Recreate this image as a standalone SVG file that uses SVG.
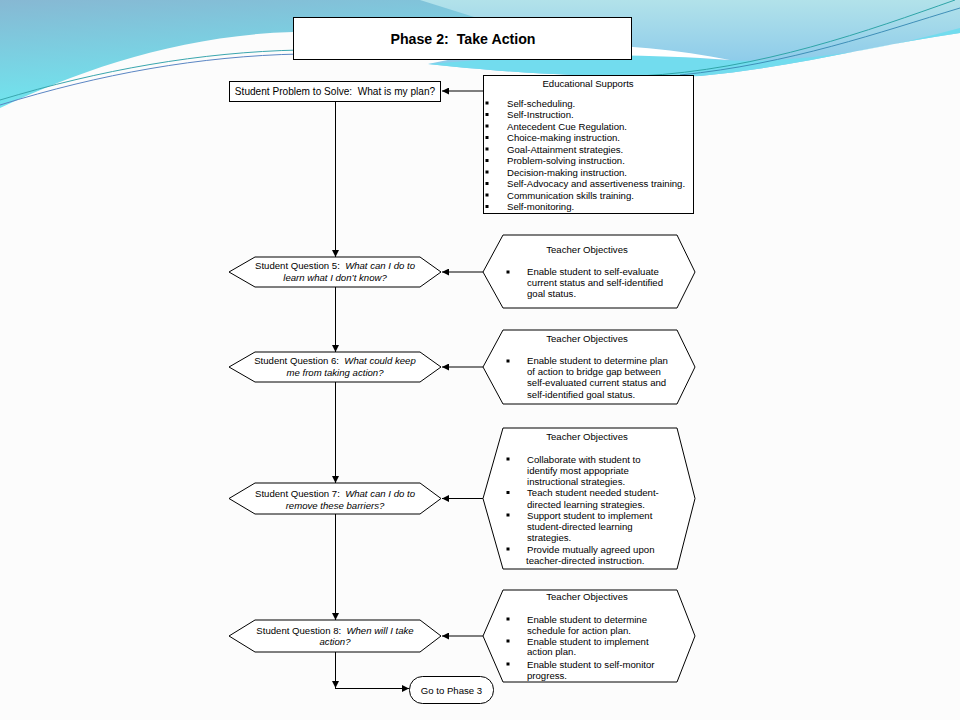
<svg xmlns="http://www.w3.org/2000/svg" width="960" height="720" viewBox="0 0 960 720">
<defs>
<linearGradient id="gl" x1="0" y1="0" x2="0.3" y2="1">
<stop offset="0" stop-color="#87b8d3"/>
<stop offset="1" stop-color="#6ee9f1"/>
</linearGradient>
<linearGradient id="gr" x1="0" y1="0" x2="0" y2="1">
<stop offset="0" stop-color="#b2e2ea"/>
<stop offset="1" stop-color="#85c6ea"/>
</linearGradient>
<marker id="ah" viewBox="0 0 10 10" refX="10" refY="5" markerWidth="7" markerHeight="7" markerUnits="userSpaceOnUse" orient="auto">
<path d="M0,0 L10,5 L0,10 Z" fill="#000"/>
</marker>
<style>
.box{fill:#fff;stroke:#000;stroke-width:1}
.t{font-family:"Liberation Sans",Arial,sans-serif;font-size:9.6px;fill:#000}
.it{font-style:italic}
.ttl{font-family:"Liberation Sans",Arial,sans-serif;font-size:14.2px;font-weight:bold;fill:#000}
.c{stroke:#000;stroke-width:1;fill:none}
.b{fill:#000}
</style>
</defs>
<g id="background">
<rect x="0" y="0" width="960" height="720" fill="#fcfcfc"/>
<path d="M0,0 H520 V60 C440,45 380,32 293,32 C180,35 80,70 0,108 Z" fill="url(#gl)"/>
<path d="M420,0 H960 V33 C870,46 790,68 700,76 C600,79 500,72 428,64 C470,55 520,48 560,44 Z" fill="url(#gr)"/>
<path d="M428,64 C520,56 620,50 720,60 C800,64 880,50 960,28 V33 C870,46 790,68 700,76 C600,79 500,72 428,64 Z" fill="#72dcee"/>
<path d="M560,44 C620,44 680,50 730,60 C650,54 580,54 470,60 C500,52 530,47 560,44 Z" fill="#ffffff"/>
<path d="M0,100 C100,70 200,52 300,50" stroke="#3aa6ae" stroke-width="1" fill="none"/>
<path d="M0,105 C100,74 200,56 300,54" stroke="#5b86c4" stroke-width="1" fill="none"/>
<path d="M640,76 C760,70 870,30 955,0" stroke="#2fa5a8" stroke-width="1" fill="none"/>
<path d="M680,75 C790,64 880,32 960,8" stroke="#3f8fb8" stroke-width="1" fill="none"/>
</g>
<g id="title">
<rect class="box" x="293.5" y="17.5" width="338" height="42"/>
<text class="ttl" x="463" y="44" text-anchor="middle" xml:space="preserve">Phase 2:  Take Action</text>
</g>
<g id="connectors">
<line class="c" x1="483" y1="91" x2="442" y2="91" marker-end="url(#ah)"/>
<line class="c" x1="335.5" y1="102" x2="335.5" y2="257" marker-end="url(#ah)"/>
<line class="c" x1="483" y1="272" x2="442" y2="272" marker-end="url(#ah)"/>
<line class="c" x1="335.5" y1="287" x2="335.5" y2="352" marker-end="url(#ah)"/>
<line class="c" x1="483" y1="367" x2="442" y2="367" marker-end="url(#ah)"/>
<line class="c" x1="335.5" y1="382" x2="335.5" y2="483" marker-end="url(#ah)"/>
<line class="c" x1="483" y1="498.5" x2="442" y2="498.5" marker-end="url(#ah)"/>
<line class="c" x1="335.5" y1="514" x2="335.5" y2="620" marker-end="url(#ah)"/>
<line class="c" x1="483" y1="636" x2="442" y2="636" marker-end="url(#ah)"/>
<line class="c" x1="335.5" y1="652" x2="335.5" y2="688" marker-end="url(#ah)"/>
<line class="c" x1="335" y1="688.5" x2="409" y2="688.5" marker-end="url(#ah)"/>
</g>
<g id="problem">
<rect class="box" x="229.5" y="81.5" width="211" height="20"/>
<text class="t" x="335" y="95" text-anchor="middle" style="font-size:10.1px" xml:space="preserve">Student Problem to Solve:  What is my plan?</text>
</g>
<g id="supports">
<rect class="box" x="483.5" y="75.5" width="210" height="138"/>
<text class="t" x="588" y="86.5" text-anchor="middle">Educational Supports</text>
<g class="b">
<rect x="485.5" y="101.5" width="3" height="3"/>
<rect x="485.5" y="113" width="3" height="3"/>
<rect x="485.5" y="124.5" width="3" height="3"/>
<rect x="485.5" y="136" width="3" height="3"/>
<rect x="485.5" y="147.5" width="3" height="3"/>
<rect x="485.5" y="159" width="3" height="3"/>
<rect x="485.5" y="170.5" width="3" height="3"/>
<rect x="485.5" y="182" width="3" height="3"/>
<rect x="485.5" y="193.5" width="3" height="3"/>
<rect x="485.5" y="205" width="3" height="3"/>
</g>
<text class="t"><tspan x="507" y="106.5">Self-scheduling.</tspan><tspan x="507" y="118">Self-Instruction.</tspan><tspan x="507" y="129.5">Antecedent Cue Regulation.</tspan><tspan x="507" y="141">Choice-making instruction.</tspan><tspan x="507" y="152.5">Goal-Attainment strategies.</tspan><tspan x="507" y="164">Problem-solving instruction.</tspan><tspan x="507" y="175.5">Decision-making instruction.</tspan><tspan x="507" y="187">Self-Advocacy and assertiveness training.</tspan><tspan x="507" y="198.5">Communication skills training.</tspan><tspan x="507" y="210">Self-monitoring.</tspan></text>
</g>
<g id="q5">
<polygon class="box" points="229,272 255,257 420,257 441,272 420,287 255,287"/>
<text class="t" x="335" y="268.5" text-anchor="middle" xml:space="preserve">Student Question 5:  <tspan class="it">What can I do to</tspan></text>
<text class="t it" x="335" y="280.5" text-anchor="middle">learn what I don’t know?</text>
</g>
<g id="obj5">
<polygon class="box" points="483,272 503,235 677,235 695,272 677,308 503,308"/>
<text class="t" x="587" y="252.5" text-anchor="middle">Teacher Objectives</text>
<rect class="b" x="506.5" y="270.5" width="3" height="3"/>
<text class="t"><tspan x="527" y="275">Enable student to self-evaluate</tspan><tspan x="527" y="286">current status and self-identified</tspan><tspan x="527" y="297">goal status.</tspan></text>
</g>
<g id="q6">
<polygon class="box" points="229,367 255,352 420,352 441,367 420,382 255,382"/>
<text class="t" x="335" y="363.5" text-anchor="middle" xml:space="preserve">Student Question 6:  <tspan class="it">What could keep</tspan></text>
<text class="t it" x="335" y="375.5" text-anchor="middle">me from taking action?</text>
</g>
<g id="obj6">
<polygon class="box" points="483,367 503,330 677,330 695,367 677,404 503,404"/>
<text class="t" x="587" y="341.5" text-anchor="middle">Teacher Objectives</text>
<rect class="b" x="506.5" y="359.5" width="3" height="3"/>
<text class="t"><tspan x="527" y="364">Enable student to determine plan</tspan><tspan x="527" y="375">of action to bridge gap between</tspan><tspan x="527" y="386">self-evaluated current status and</tspan><tspan x="527" y="397.5">self-identified goal status.</tspan></text>
</g>
<g id="q7">
<polygon class="box" points="229,498.5 255,483 420,483 441,498.5 420,514 255,514"/>
<text class="t" x="335" y="496.5" text-anchor="middle" xml:space="preserve">Student Question 7:  <tspan class="it">What can I do to</tspan></text>
<text class="t it" x="335" y="508.5" text-anchor="middle">remove these barriers?</text>
</g>
<g id="obj7">
<polygon class="box" points="483,498.5 503,428 677,428 695,498.5 677,569 503,569"/>
<text class="t" x="587" y="439.5" text-anchor="middle">Teacher Objectives</text>
<g class="b">
<rect x="506.5" y="457.5" width="3" height="3"/>
<rect x="506.5" y="491" width="3" height="3"/>
<rect x="506.5" y="513.5" width="3" height="3"/>
<rect x="506.5" y="547.5" width="3" height="3"/>
</g>
<text class="t"><tspan x="527" y="462.5">Collaborate with student to</tspan><tspan x="527" y="473.5">identify most appopriate</tspan><tspan x="527" y="484.5">instructional strategies.</tspan><tspan x="527" y="496">Teach student needed student-</tspan><tspan x="527" y="507.5">directed learning strategies.</tspan><tspan x="527" y="518.5">Support student to implement</tspan><tspan x="527" y="530">student-directed learning</tspan><tspan x="527" y="541">strategies.</tspan><tspan x="527" y="552.5">Provide mutually agreed upon</tspan><tspan x="526" y="563.5">teacher-directed instruction.</tspan></text>
</g>
<g id="q8">
<polygon class="box" points="229,636 255,620 420,620 441,636 420,652 255,652"/>
<text class="t" x="335" y="633.5" text-anchor="middle" xml:space="preserve">Student Question 8:  <tspan class="it">When will I take</tspan></text>
<text class="t it" x="335" y="644.5" text-anchor="middle">action?</text>
</g>
<g id="obj8">
<polygon class="box" points="483,636 503,590 677,590 695,636 677,682 503,682"/>
<text class="t" x="587" y="599.5" text-anchor="middle">Teacher Objectives</text>
<g class="b">
<rect x="506.5" y="617.5" width="3" height="3"/>
<rect x="506.5" y="639.5" width="3" height="3"/>
<rect x="506.5" y="662.5" width="3" height="3"/>
</g>
<text class="t"><tspan x="527" y="622.5">Enable student to determine</tspan><tspan x="527" y="633.5">schedule for action plan.</tspan><tspan x="527" y="644.5">Enable student to implement</tspan><tspan x="527" y="655">action plan.</tspan><tspan x="527" y="667.5">Enable student to self-monitor</tspan><tspan x="527" y="678.5">progress.</tspan></text>
</g>
<g id="phase3">
<rect class="box" x="409.5" y="676.5" width="84" height="27" rx="13" ry="13"/>
<text class="t" x="451.5" y="693.5" text-anchor="middle">Go to Phase 3</text>
</g>
</svg>
